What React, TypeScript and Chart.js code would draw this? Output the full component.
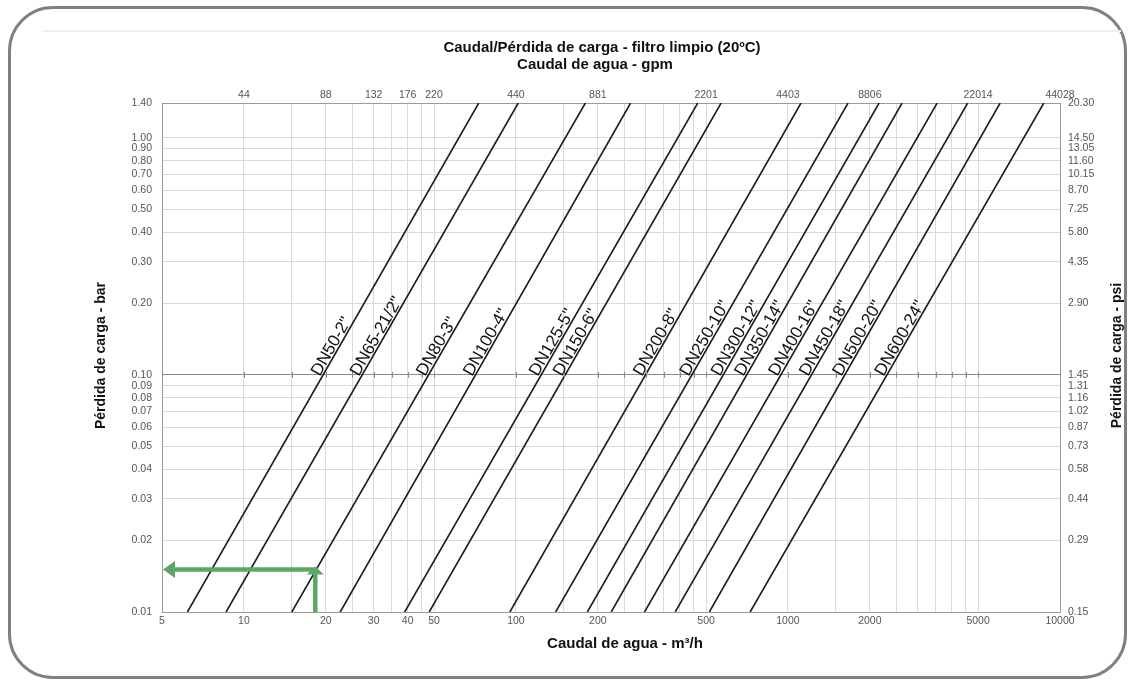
import React, { useEffect, useRef } from 'react';
import { Chart, registerables } from 'chart.js';

Chart.register(...registerables);

// ---------- data ----------
const DN_LABELS = [
  'DN50-2"', 'DN65-21/2"', 'DN80-3"', 'DN100-4"', 'DN125-5"', 'DN150-6"', 'DN200-8"',
  'DN250-10"', 'DN300-12"', 'DN350-14"', 'DN400-16"', 'DN450-18"', 'DN500-20"', 'DN600-24"',
];
// flow (m3/h) at the lowest pressure drop shown (0.01 bar)
const Q_AT_LOW = [6.2, 8.6, 15.0, 22.6, 39, 48, 95, 140, 183, 224, 297, 385, 514, 726];
// flow (m3/h) at the highest pressure drop shown (1.40 bar)
const Q_AT_HIGH = [73, 102, 180, 264, 466, 568, 1117, 1663, 2163, 2627, 3535, 4578, 6025, 8720];
const P_LOW = 0.01;
const P_HIGH = 1.4;
const LABEL_P = 0.097;

const X_LABELED = [5, 10, 20, 30, 40, 50, 100, 200, 500, 1000, 2000, 5000, 10000];
const X_GRID_EXTRA = [15, 25, 35, 45, 150, 250, 300, 350, 400, 450, 1500, 2500, 3000, 3500, 4000, 4500];
const GPM_AT = [10, 20, 30, 40, 50, 100, 200, 500, 1000, 2000, 5000, 10000];
const GPM_LABELS = ['44', '88', '132', '176', '220', '440', '881', '2201', '4403', '8806', '22014', '44028'];

const BAR_TICKS = [0.01, 0.02, 0.03, 0.04, 0.05, 0.06, 0.07, 0.08, 0.09, 0.1, 0.2, 0.3, 0.4, 0.5, 0.6, 0.7, 0.8, 0.9, 1.0, 1.4];
const BAR_LABELS = ['0.01', '0.02', '0.03', '0.04', '0.05', '0.06', '0.07', '0.08', '0.09', '0.10', '0.20', '0.30', '0.40', '0.50', '0.60', '0.70', '0.80', '0.90', '1.00', '1.40'];
const PSI_LABELS = ['0.15', '0.29', '0.44', '0.58', '0.73', '0.87', '1.02', '1.16', '1.31', '1.45', '2.90', '4.35', '5.80', '7.25', '8.70', '10.15', '11.60', '13.05', '14.50', '20.30'];

const ARROW_Q = 18.3;
const ARROW_P = 0.0151;

const TITLE_1 = 'Caudal/Pérdida de carga - filtro limpio (20ºC)';
const TITLE_2 = 'Caudal de agua - gpm';
const X_TITLE = 'Caudal de agua - m³/h';
const Y_TITLE = 'Pérdida de carga - bar';
const Y2_TITLE = 'Pérdida de carga - psi';

// ---------- styles ----------
const FONT = '"Liberation Sans", Arial, Helvetica, sans-serif';
const GRID = '#dadada';
const AXIS = '#9a9a9a';
const GREEN = '#5ba763';

const X_ALL = [...X_LABELED, ...X_GRID_EXTRA].sort((a, b) => a - b);

const decorPlugin = {
  id: 'decor',
  afterDatasetsDraw(chart: any) {
    const { ctx, chartArea } = chart;
    const xs = chart.scales.x;
    const ys = chart.scales.y;

    // small tick marks on the 0.10 bar line
    const y01 = ys.getPixelForValue(0.1);
    ctx.save();
    ctx.strokeStyle = '#8a8a8a';
    ctx.lineWidth = 1;
    X_ALL.forEach((v) => {
      const px = Math.round(xs.getPixelForValue(v)) + 0.5;
      ctx.beginPath();
      ctx.moveTo(px, y01 - 3);
      ctx.lineTo(px, y01 + 3);
      ctx.stroke();
    });
    ctx.restore();

    // DN labels along the lines
    ctx.save();
    ctx.fillStyle = '#111';
    ctx.font = `17px ${FONT}`;
    ctx.textAlign = 'left';
    ctx.textBaseline = 'alphabetic';
    const t = (Math.log(LABEL_P) - Math.log(P_LOW)) / (Math.log(P_HIGH) - Math.log(P_LOW));
    DN_LABELS.forEach((lab, i) => {
      const x1 = xs.getPixelForValue(Q_AT_LOW[i]);
      const y1 = ys.getPixelForValue(P_LOW);
      const x2 = xs.getPixelForValue(Q_AT_HIGH[i]);
      const y2 = ys.getPixelForValue(P_HIGH);
      const ang = Math.atan2(y2 - y1, x2 - x1);
      const q = Math.exp(Math.log(Q_AT_LOW[i]) + t * (Math.log(Q_AT_HIGH[i]) - Math.log(Q_AT_LOW[i])));
      const px = xs.getPixelForValue(q);
      const py = ys.getPixelForValue(LABEL_P);
      ctx.save();
      ctx.translate(px, py);
      ctx.rotate(ang);
      ctx.fillText(lab, 0, -2);
      ctx.restore();
    });
    ctx.restore();

    // green arrow
    const ax = xs.getPixelForValue(ARROW_Q);
    const ay = ys.getPixelForValue(ARROW_P);
    ctx.save();
    ctx.strokeStyle = GREEN;
    ctx.fillStyle = GREEN;
    ctx.lineWidth = 4.5;
    ctx.beginPath();
    ctx.moveTo(ax, chartArea.bottom);
    ctx.lineTo(ax, ay + 4);
    ctx.stroke();
    ctx.beginPath();
    ctx.moveTo(ax + 2, ay);
    ctx.lineTo(chartArea.left + 11, ay);
    ctx.stroke();
    ctx.beginPath();
    ctx.moveTo(ax, ay - 3);
    ctx.lineTo(ax + 8.5, ay + 5);
    ctx.lineTo(ax - 8.5, ay + 5);
    ctx.closePath();
    ctx.fill();
    ctx.beginPath();
    ctx.moveTo(chartArea.left + 1, ay);
    ctx.lineTo(chartArea.left + 13, ay - 8.5);
    ctx.lineTo(chartArea.left + 13, ay + 8.5);
    ctx.closePath();
    ctx.fill();
    ctx.restore();
  },
  afterDraw(chart: any) {
    const { ctx, chartArea } = chart;
    const cx = (chartArea.left + chartArea.right) / 2;
    const cy = (chartArea.top + chartArea.bottom) / 2;
    ctx.save();
    ctx.fillStyle = '#111';
    ctx.textAlign = 'center';
    ctx.textBaseline = 'middle';
    ctx.font = `bold 15px ${FONT}`;
    ctx.fillText(TITLE_1, cx - 9, 48);
    ctx.fillText(TITLE_2, cx - 16, 65);
    ctx.fillText(X_TITLE, cx + 14, 644);
    ctx.font = `bold 14px ${FONT}`;
    ctx.save();
    ctx.translate(101, cy - 2);
    ctx.rotate(-Math.PI / 2);
    ctx.fillText(Y_TITLE, 0, 0);
    ctx.restore();
    ctx.save();
    ctx.translate(1117, cy - 2);
    ctx.rotate(-Math.PI / 2);
    ctx.fillText(Y2_TITLE, 0, 0);
    ctx.restore();
    ctx.restore();
  },
};

export default function App() {
  const ref = useRef<HTMLCanvasElement>(null);

  useEffect(() => {
    const canvas = ref.current;
    if (!canvas) return;

    const datasets = DN_LABELS.map((lab, i) => ({
      label: lab,
      data: [
        { x: Q_AT_LOW[i], y: P_LOW },
        { x: Q_AT_HIGH[i], y: P_HIGH },
      ],
      showLine: true,
      borderColor: '#1c1c1c',
      borderWidth: 1.6,
      pointRadius: 0,
      xAxisID: 'x',
      yAxisID: 'y',
    }));

    const tickFont = { size: 10.5, family: FONT };

    const chart = new Chart(canvas, {
      type: 'scatter',
      data: { datasets },
      plugins: [decorPlugin],
      options: {
        responsive: false,
        maintainAspectRatio: false,
        animation: false,
        events: [],
        layout: { padding: 0 },
        plugins: {
          legend: { display: false },
          tooltip: { enabled: false },
          title: { display: false },
        },
        scales: {
          x: {
            type: 'logarithmic',
            position: 'bottom',
            min: 5,
            max: 10000,
            afterBuildTicks: (s: any) => {
              s.ticks = X_ALL.map((v) => ({ value: v }));
            },
            afterFit: (s: any) => {
              s.height = 70;
            },
            grid: { color: GRID, lineWidth: 1, drawTicks: false },
            border: { display: true, color: AXIS, width: 1 },
            ticks: {
              autoSkip: false,
              maxRotation: 0,
              minRotation: 0,
              padding: 3,
              color: '#555',
              font: tickFont,
              callback: (v: any) => (X_LABELED.includes(Number(v)) ? String(v) : ''),
            },
          },
          x2: {
            type: 'logarithmic',
            position: 'top',
            min: 5,
            max: 10000,
            afterBuildTicks: (s: any) => {
              s.ticks = GPM_AT.map((v) => ({ value: v }));
            },
            afterFit: (s: any) => {
              s.height = 103;
            },
            grid: { display: false, drawTicks: false },
            border: { display: true, color: AXIS, width: 1 },
            ticks: {
              autoSkip: false,
              maxRotation: 0,
              minRotation: 0,
              padding: 2,
              color: '#555',
              font: tickFont,
              callback: (_v: any, i: number) => GPM_LABELS[i],
            },
          },
          y: {
            type: 'logarithmic',
            position: 'left',
            min: 0.01,
            max: 1.4,
            afterBuildTicks: (s: any) => {
              s.ticks = BAR_TICKS.map((v) => ({ value: v }));
            },
            afterFit: (s: any) => {
              s.width = 162;
            },
            grid: {
              color: (c: any) => (c.tick && c.tick.value === 0.1 ? '#8a8a8a' : GRID),
              lineWidth: 1,
              drawTicks: false,
            },
            border: { display: true, color: AXIS, width: 1 },
            ticks: {
              autoSkip: false,
              padding: 10,
              color: '#555',
              font: tickFont,
              callback: (_v: any, i: number) => BAR_LABELS[i],
            },
          },
          y2: {
            type: 'logarithmic',
            position: 'right',
            min: 0.01,
            max: 1.4,
            afterBuildTicks: (s: any) => {
              s.ticks = BAR_TICKS.map((v) => ({ value: v }));
            },
            afterFit: (s: any) => {
              s.width = 68;
            },
            grid: { display: false, drawTicks: false },
            border: { display: true, color: AXIS, width: 1 },
            ticks: {
              autoSkip: false,
              padding: 8,
              color: '#555',
              font: tickFont,
              callback: (_v: any, i: number) => PSI_LABELS[i],
            },
          },
        },
      } as any,
    });

    return () => chart.destroy();
  }, []);

  return (
    <div
      style={{
        position: 'fixed',
        left: 0,
        top: 0,
        width: 1128,
        height: 682,
        background: '#fff',
        overflow: 'hidden',
      }}
    >
      <div
        style={{
          position: 'absolute',
          left: 8,
          top: 6,
          width: 1119,
          height: 673,
          boxSizing: 'border-box',
          border: '3px solid #808080',
          borderRadius: 45,
        }}
      />
      <div
        style={{
          position: 'absolute',
          left: 43,
          top: 30,
          width: 1078,
          height: 2,
          background: '#eeeeee',
        }}
      />
      <canvas
        ref={ref}
        width={1128}
        height={682}
        style={{ position: 'absolute', left: 0, top: 0, width: 1128, height: 682 }}
      />
    </div>
  );
}
